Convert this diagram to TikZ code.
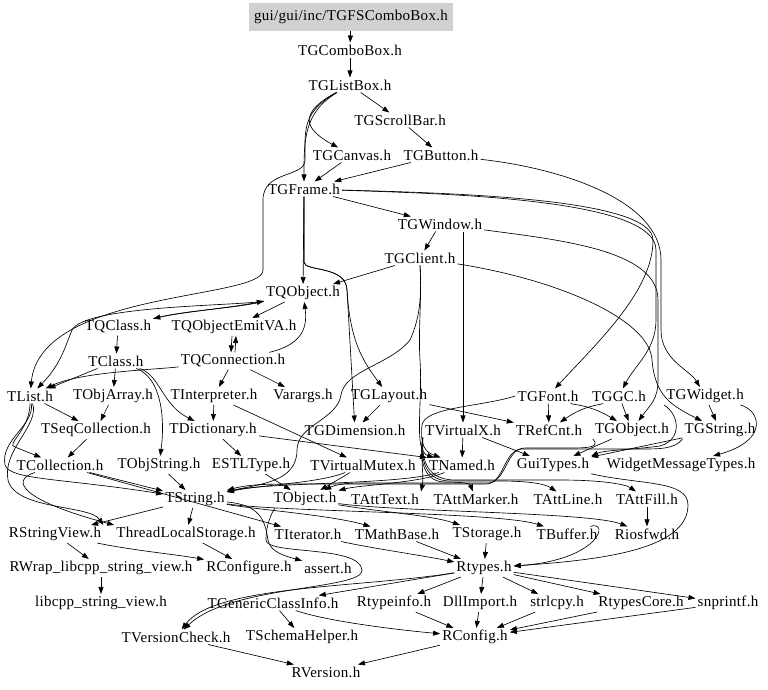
\documentclass[tikz,border=0pt]{standalone}
\usepackage{fontspec}
\setmainfont{Liberation Serif}[LetterSpace=2]
\usetikzlibrary{arrows.meta}
\begin{document}
\begin{tikzpicture}[x=1pt,y=-1pt,
  lbl/.style={inner sep=2pt, font=\fontsize{15}{16}\selectfont},
  rootbox/.style={lbl, fill=black!18, minimum width=204pt, minimum height=28pt},
  edge/.style={draw=black, line width=0.65pt, -{Triangle[length=7pt,width=5pt]}}]
\useasboundingbox (0,0) rectangle (768,690);
% nodes
\node[rootbox] (root) at (351,17) {gui/gui/inc/TGFSComboBox.h};
\node[lbl] (cbx) at (350,50) {TGComboBox.h};
\node[lbl] (lbx) at (350,85) {TGListBox.h};
\node[lbl] (sbar) at (400,120) {TGScrollBar.h};
\node[lbl] (canv) at (352,155) {TGCanvas.h};
\node[lbl] (btn) at (441,155) {TGButton.h};
\node[lbl] (frm) at (304,189) {TGFrame.h};
\node[lbl] (win) at (440,224) {TGWindow.h};
\node[lbl] (cli) at (420,258) {TGClient.h};
\node[lbl] (qobj) at (303,293) {TQObject.h};
\node[lbl] (qcls) at (118,327) {TQClass.h};
\node[lbl] (qemit) at (234,327) {TQObjectEmitVA.h};
\node[lbl] (cls) at (116,361) {TClass.h};
\node[lbl] (qcon) at (233,361) {TQConnection.h};
\node[lbl] (lst) at (30,396) {TList.h};
\node[lbl] (oarr) at (113,396) {TObjArray.h};
\node[lbl] (intp) at (214,396) {TInterpreter.h};
\node[lbl] (varg) at (303,396) {Varargs.h};
\node[lbl] (lay) at (389,396) {TGLayout.h};
\node[lbl] (font) at (548,396) {TGFont.h};
\node[lbl] (ggc) at (619,396) {TGGC.h};
\node[lbl] (wid) at (705,396) {TGWidget.h};
\node[lbl] (seq) at (96,430) {TSeqCollection.h};
\node[lbl] (dict) at (213,430) {TDictionary.h};
\node[lbl] (dim) at (355,430) {TGDimension.h};
\node[lbl] (vx) at (463,430) {TVirtualX.h};
\node[lbl] (ref) at (549,430) {TRefCnt.h};
\node[lbl] (gobj) at (632,430) {TGObject.h};
\node[lbl] (gstr) at (720,430) {TGString.h};
\node[lbl] (coll) at (60,465) {TCollection.h};
\node[lbl] (ostr) at (159,465) {TObjString.h};
\node[lbl] (estl) at (251,465) {ESTLType.h};
\node[lbl] (vmtx) at (363,465) {TVirtualMutex.h};
\node[lbl] (named) at (462,465) {TNamed.h};
\node[lbl] (gui) at (553,465) {GuiTypes.h};
\node[lbl] (wmt) at (681,465) {WidgetMessageTypes.h};
\node[lbl] (str) at (195,499) {TString.h};
\node[lbl] (obj) at (305,499) {TObject.h};
\node[lbl] (atext) at (385,499) {TAttText.h};
\node[lbl] (amark) at (476,499) {TAttMarker.h};
\node[lbl] (aline) at (568,499) {TAttLine.h};
\node[lbl] (afill) at (647,499) {TAttFill.h};
\node[lbl] (rsv) at (55,534) {RStringView.h};
\node[lbl] (tls) at (186,534) {ThreadLocalStorage.h};
\node[lbl] (iter) at (308,534) {TIterator.h};
\node[lbl] (math) at (397,534) {TMathBase.h};
\node[lbl] (stor) at (487,534) {TStorage.h};
\node[lbl] (buf) at (567,534) {TBuffer.h};
\node[lbl] (ios) at (647,534) {Riosfwd.h};
\node[lbl] (rwrap) at (101,568) {RWrap\_libcpp\_string\_view.h};
\node[lbl] (rconfigure) at (249,568) {RConfigure.h};
\node[lbl] (assrt) at (328,568) {assert.h};
\node[lbl] (rtypes) at (484,568) {Rtypes.h};
\node[lbl] (libcpp) at (101,603) {libcpp\_string\_view.h};
\node[lbl] (gci) at (273,603) {TGenericClassInfo.h};
\node[lbl] (rtinfo) at (394,603) {Rtypeinfo.h};
\node[lbl] (dll) at (480,603) {DllImport.h};
\node[lbl] (strl) at (557,603) {strlcpy.h};
\node[lbl] (rcore) at (641,603) {RtypesCore.h};
\node[lbl] (snpr) at (728,603) {snprintf.h};
\node[lbl] (vchk) at (176,637) {TVersionCheck.h};
\node[lbl] (schema) at (302,637) {TSchemaHelper.h};
\node[lbl] (rconfig) at (475,637) {RConfig.h};
\node[lbl] (rver) at (326,672) {RVersion.h};
% edges: top part
\draw[edge] (root) -- (cbx);
\draw[edge] (cbx) -- (lbx);
\draw[edge] (lbx) -- (sbar);
\draw[edge] (lbx) .. controls (300,112) and (302,128) .. (canv);
\draw[edge] (lbx) .. controls (304,112) and (304,140) .. (frm);
\draw[edge] (lbx) .. controls (302,112) and (305,130) .. (305,160) .. controls (305,178) and (263,170) .. (263,200) -- (263,270) .. controls (263,300) and (40,290) .. (lst);
\draw[edge] (sbar) -- (btn);
\draw[edge] (canv) -- (frm);
\draw[edge] (btn) -- (frm);
\draw[edge] (btn) .. controls (560,168) and (661,200) .. (661,260) -- (661,330) .. controls (661,360) and (690,370) .. (wid);
\draw[edge] (frm) -- (win);
\draw[edge] (frm) -- (qobj);
\draw[edge] (frm) .. controls (450,193) and (653,198) .. (653,240) .. controls (653,290) and (600,340) .. (font);
\draw[edge] (frm) .. controls (460,194) and (656,200) .. (656,250) -- (656,320) .. controls (656,350) and (635,365) .. (ggc);
\draw[edge] (frm) -- (304,262) .. controls (304,272) and (346,265) .. (347,290) .. controls (350,340) and (362,360) .. (lay);
\draw[edge] (frm) -- (304,262) .. controls (304,272) and (346,265) .. (347,290) -- (dim);
\draw[edge] (win) -- (cli);
\draw[edge] (win.south -| vx.north) -- (vx.north);
\draw[edge] (win) .. controls (560,240) and (658,250) .. (658,300) -- (658,380) .. controls (658,400) and (650,405) .. (gobj);
\draw[edge] (cli) -- (qobj);
\draw[edge] (cli) .. controls (560,280) and (650,320) .. (652,360) .. controls (655,395) and (670,405) .. (gstr);
\draw[edge] (cli.south) .. controls (422,300) and (419,320) .. (410,340) .. controls (390,365) and (345,370) .. (341,395) .. controls (337,420) and (297,425) .. (297,450) .. controls (297,482) and (260,484) .. (str);
\draw[edge] (cli.south) .. controls (422,300) and (418,330) .. (420,360) .. controls (422,390) and (418,420) .. (420,440) .. controls (421,450) and (425,455) .. (named);
% middle
\draw[edge] (qobj) -- (qemit);
\draw[edge] (qcls) .. controls (180,312) and (230,308) .. (qobj);
\draw[edge] (qobj) .. controls (230,309) and (190,310) .. (qcls);
\draw[edge] (qobj) .. controls (240,306) and (85,305) .. (72,330) .. controls (64,350) and (60,365) .. (lst);
\draw[edge] ([xshift=-2pt]qemit.south) -- ([xshift=-2pt]qcon.north);
\draw[edge] ([xshift=2pt]qcon.north) -- ([xshift=2pt]qemit.south);
\draw[edge] (qcon) .. controls (300,345) and (308,330) .. (qobj);
\draw[edge] (qcls) -- (cls);
\draw[edge] (cls) -- (lst);
\draw[edge] (qcon) .. controls (150,370) and (80,372) .. (lst);
\draw[edge] (cls) -- (oarr);
\draw[edge] (cls) .. controls (160,375) and (162,405) .. (dict);
\draw[edge] (cls) .. controls (162,378) and (165,420) .. (ostr);
\draw[edge] (qcon) -- (intp);
\draw[edge] (qcon) -- (varg);
\draw[edge] (lst) -- (seq);
\draw[edge] (oarr) -- (seq);
\draw[edge] (intp) -- (dict);
\draw[edge] (intp) -- (vmtx);
\draw[edge] (seq) -- (coll);
\draw[edge] (lst) .. controls (30,430) and (5,445) .. (15,447) -- (coll);
\draw[edge] (lst) .. controls (35,425) and (0,440) .. (5,465) .. controls (10,480) and (60,478) .. (str);
\draw[edge] (lst) .. controls (40,425) and (2,450) .. (8,480) .. controls (15,510) and (90,505) .. (rsv.north east);
\draw[edge] (coll) -- (str);
\draw[edge] (coll) -- (iter);
\draw[edge] (coll) .. controls (10,480) and (20,500) .. (tls.north west);
\draw[edge] (ostr) -- (str);
\draw[edge] (dict) -- (estl);
\draw[edge] (dict) -- (named.north west);
\draw[edge] (estl) -- (obj);
\draw[edge] (vmtx) -- (obj);
\draw[edge] (vmtx) .. controls (320,483) and (260,485) .. (str);
\draw[edge] (named) .. controls (420,483) and (360,485) .. (obj);
\draw[edge] (named) .. controls (400,485) and (270,482) .. (str);
% right part
\draw[edge] (font) -- (ref);
\draw[edge] (font) .. controls (575,405) and (590,405) .. (gobj);
\draw[edge] (ggc) .. controls (600,405) and (585,405) .. (ref);
\draw[edge] (ggc) -- (gobj);
\draw[edge] (lay) -- (dim);
\draw[edge] (lay) -- (ref);
\draw[edge] (font.west) .. controls (480,407) and (425,407) .. (422,425) .. controls (420,445) and (425,452) .. (named);
\draw[edge] (wid) -- (gstr);
\draw[edge] (wid) .. controls (760,410) and (770,440) .. (wmt);
\draw[edge] (wid.south west) .. controls (680,415) and (682,440) .. (660,446) .. controls (630,450) and (605,450) .. (gui.north east);
\draw[edge] (gobj) -- (gui);
\draw[edge] (gobj.south west) .. controls (600,447) and (590,448) .. (570,448) -- (525,448) .. controls (506,448) and (506,483) .. (488,483) -- (360,483) .. controls (345,483) and (335,485) .. (obj);
\draw[edge] (gstr) -- (gui);
\draw[edge] (gstr.south west) .. controls (675,449) and (660,449) .. (640,449) -- (522,449) .. controls (504,449) and (504,484) .. (486,484) -- (300,484) .. controls (270,484) and (250,484) .. (str);
\draw[edge] (vx) -- (named);
\draw[edge] (vx) -- (gui);
\draw[edge] (vx.south west) .. controls (420,450) and (424,478) .. (atext.north east);
\draw[edge] (vx.south west) .. controls (420,452) and (420,482) .. (445,482) .. controls (465,482) and (470,484) .. (amark);
\draw[edge] (vx.south west) .. controls (421,452) and (421,481) .. (450,481) -- (500,481) .. controls (530,481) and (545,484) .. (aline);
\draw[edge] (vx.south west) .. controls (422,452) and (422,480) .. (455,480) -- (560,480) .. controls (600,480) and (625,484) .. (afill);
% lower part
\draw[edge] (str) -- (rsv);
\draw[edge] (str) -- (tls);
\draw[edge] (str) .. controls (260,510) and (330,515) .. (math);
\draw[edge] (str) .. controls (280,512) and (500,512) .. (buf);
\draw[edge] (str) .. controls (260,505) and (265,520) .. (268,540) .. controls (270,552) and (285,556) .. (assrt);
\draw[edge] (obj) .. controls (380,512) and (430,515) .. (stor);
\draw[edge] (obj) .. controls (400,512) and (590,512) .. (ios);
\draw[edge] (obj) .. controls (275,508) and (266,520) .. (266,540) .. controls (266,555) and (360,545) .. (362,570) .. controls (364,590) and (230,585) .. (vchk);
\draw[edge] (afill) -- (ios);
\draw[edge] (gui) .. controls (640,485) and (688,480) .. (688,505) .. controls (688,550) and (600,560) .. (rtypes);
\draw[edge] (iter) .. controls (370,548) and (420,555) .. (rtypes);
\draw[edge] (math) -- (rtypes);
\draw[edge] (stor) -- (rtypes);
\draw[edge] (buf) .. controls (610,520) and (600,560) .. (rtypes);
\draw[edge] (rsv) -- (rwrap);
\draw[edge] (rwrap) -- (libcpp);
\draw[edge] (rsv) .. controls (130,550) and (180,555) .. (rconfigure);
\draw[edge] (tls) -- (rconfigure);
\draw[edge] (rtypes) -- (gci);
\draw[edge] (rtypes) -- (rtinfo);
\draw[edge] (rtypes) -- (dll);
\draw[edge] (rtypes) -- (strl);
\draw[edge] (rtypes) -- (rcore);
\draw[edge] (rtypes) -- (snpr);
\draw[edge] (rtypes) .. controls (360,588) and (215,585) .. (vchk);
\draw[edge] (gci) -- (schema);
\draw[edge] (gci) .. controls (330,622) and (400,630) .. (rconfig);
\draw[edge] (rtinfo) -- (rconfig);
\draw[edge] (dll) -- (rconfig);
\draw[edge] (strl) -- (rconfig);
\draw[edge] (rcore) -- (rconfig);
\draw[edge] (snpr) -- (rconfig);
\draw[edge] (vchk) -- (rver);
\draw[edge] (rconfig) -- (rver);
\end{tikzpicture}
\end{document}
